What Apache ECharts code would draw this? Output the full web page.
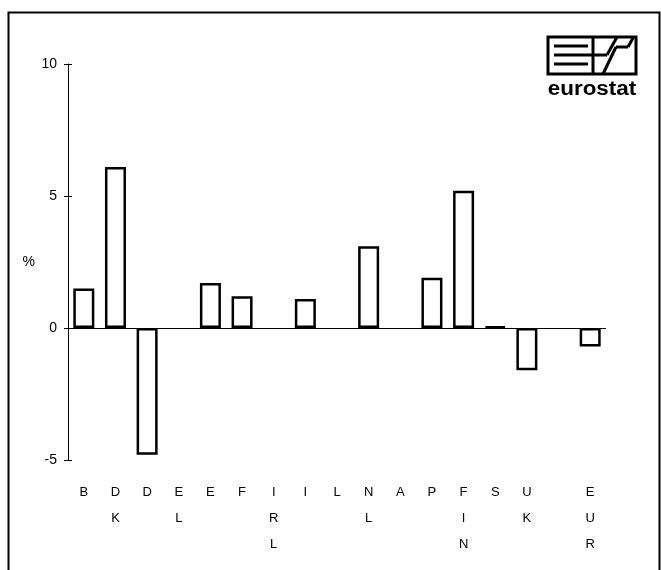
<!DOCTYPE html>
<html>
<head>
<meta charset="utf-8">
<script src="https://cdn.jsdelivr.net/npm/echarts@6/dist/echarts.min.js"></script>
<style>
html,body{margin:0;padding:0;background:#fff;}
#chart{width:661px;height:570px;}
</style>
</head>
<body>
<div id="chart"></div>
<script>
var categories = ['B','DK','D','EL','E','F','IRL','I','L','NL','A','P','FIN','S','UK','','EUR'];
var values = [1.5, 6.1, -4.8, null, 1.7, 1.2, null, 1.1, null, 3.1, null, 1.9, 5.2, 0.05, -1.6, null, -0.7];
var yTicks = {min: -5, max: 10, interval: 5};
var yName = '%';
var logoText = 'eurostat';

var chart = echarts.init(document.getElementById('chart'), null, {renderer: 'canvas'});
var font = 'Liberation Sans, Arial, Helvetica, sans-serif';
var ln = function (x1, y1, x2, y2, w) {
  return {type: 'line', shape: {x1: x1, y1: y1, x2: x2, y2: y2}, style: {stroke: '#000', lineWidth: w || 3}, silent: true};
};
chart.setOption({
  animation: false,
  backgroundColor: '#fff',
  grid: {left: 68, right: 55, top: 64, bottom: 110, containLabel: false, outerBoundsMode: 'none'},
  xAxis: {
    type: 'category',
    data: categories,
    axisLine: {show: false, onZero: false},
    axisTick: {show: false},
    splitLine: {show: false},
    axisLabel: {
      interval: 0, margin: 19, color: '#000', fontSize: 13, fontFamily: font, lineHeight: 26,
      formatter: function (v) { return v.split('').join('\n'); }
    }
  },
  yAxis: [{
    type: 'value', min: yTicks.min, max: yTicks.max, interval: yTicks.interval,
    name: yName, nameLocation: 'middle', nameRotate: 0, nameGap: 33,
    nameTextStyle: {color: '#000', fontSize: 14, fontFamily: font},
    axisLine: {show: true, lineStyle: {color: '#000', width: 1}},
    axisTick: {show: true, length: 4, lineStyle: {color: '#000', width: 1}},
    splitLine: {show: false},
    axisLabel: {color: '#000', fontSize: 14, fontFamily: font, margin: 11}
  }, {
    type: 'value', min: yTicks.min, max: yTicks.max, interval: yTicks.interval,
    position: 'left', offset: 0,
    axisLine: {show: false},
    axisTick: {show: true, inside: true, length: 4, lineStyle: {color: '#000', width: 1}},
    splitLine: {show: false},
    axisLabel: {show: false}
  }],
  series: [{
    type: 'bar',
    data: values,
    yAxisIndex: 0,
    barWidth: 21,
    itemStyle: {color: '#fff', borderColor: '#000', borderWidth: 2.5},
    markLine: {
      silent: true, symbol: 'none', label: {show: false},
      lineStyle: {color: '#000', width: 1, type: 'solid'},
      data: [{yAxis: 0}]
    }
  }],
  graphic: [
    {type: 'rect', shape: {x: 8.5, y: 12.5, width: 651, height: 620}, style: {fill: null, stroke: '#000', lineWidth: 2}, silent: true},
    {type: 'rect', shape: {x: 548, y: 37, width: 88, height: 37}, style: {fill: '#fff', stroke: '#000', lineWidth: 3}, silent: true},
    ln(554, 46, 588, 46), ln(554, 55, 598, 55), ln(554, 64, 588, 64),
    ln(593, 37, 593, 74),
    ln(598, 55, 607, 55), ln(607, 55, 617, 37),
    ln(603, 74, 616, 47), ln(616, 47, 628, 47), ln(628, 47, 633, 38),
    {type: 'text', x: 592, y: 99, scaleX: 1.12, originX: 0, originY: 0,
     style: {text: logoText, fontSize: 20, fontWeight: 'bold', fontFamily: font, fill: '#000', align: 'center', verticalAlign: 'bottom'}, silent: true}
  ]
});
</script>
</body>
</html>
